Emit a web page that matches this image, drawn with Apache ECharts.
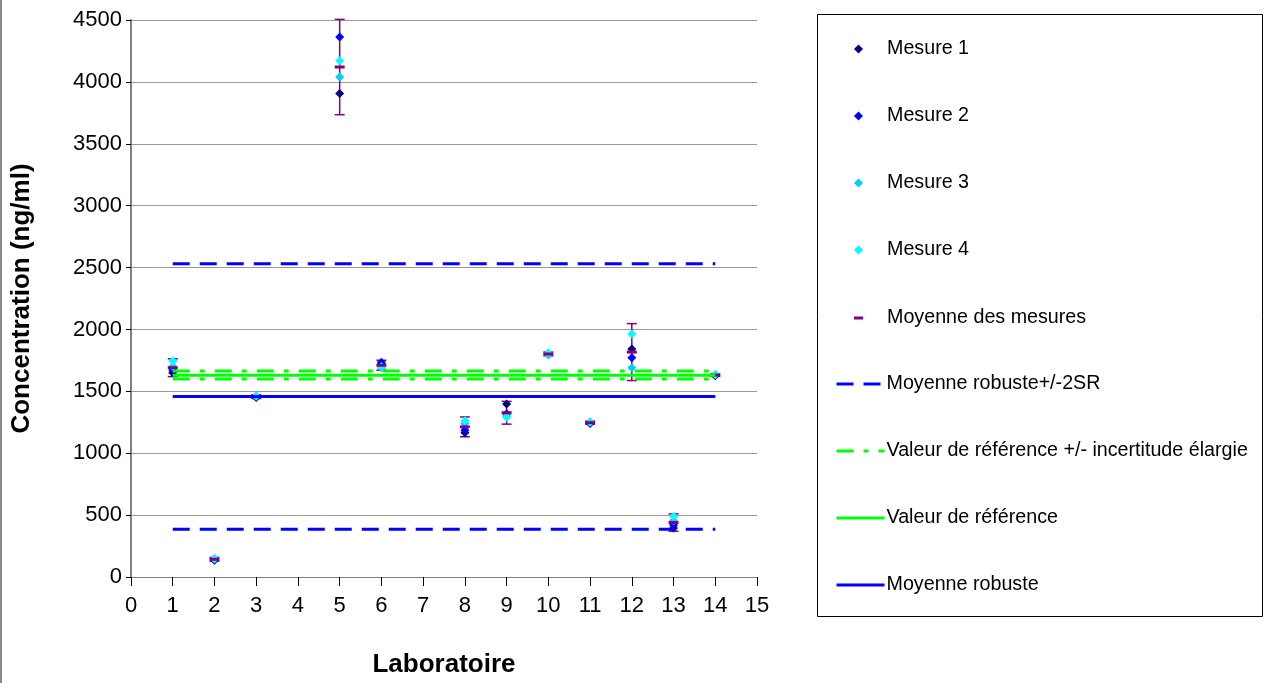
<!DOCTYPE html>
<html>
<head>
<meta charset="utf-8">
<title>Concentration par laboratoire</title>
<script src="https://cdn.jsdelivr.net/npm/echarts@6/dist/echarts.min.js"></script>
<style>
  html, body { margin: 0; padding: 0; background: #fff; }
  #chart { width: 1264px; height: 683px; }
</style>
</head>
<body>
<div id="chart"></div>
<script>
// données
const labs = [1, 2, 3, 5, 6, 8, 9, 10, 11, 12, 13, 14]
const mesure1 = [1650, 135, 1450, 3907, 1720, 1165, 1398, 1800, 1240, 1843, 395, 1625]
const mesure2 = [1670, 140, 1455, 4363, 1735, 1185, 1318, 1805, 1245, 1771, 420, 1630]
const mesure3 = [1700, 150, 1465, 4039, 1690, 1240, 1300, 1795, 1255, 1690, 455, 1635]
const mesure4 = [1745, 145, 1460, 4170, 1700, 1262, 1290, 1810, 1250, 1964, 490, 1635]
const moyenne = [1691, 143, 1457, 4120, 1711, 1213, 1327, 1802, 1247, 1817, 440, 1631]
const ecart = [72, 15, 15, 385, 40, 80, 92, 15, 12, 230, 70, 10]

const lineX = [1, 14]
const moyenneRobuste = 1458
const robusteHaut = 2530
const robusteBas = 386
const valeurRef = 1630
const refHaut = 1665
const refBas = 1600

const FONT = "'Liberation Sans', Arial, sans-serif"

const pairs = arr => labs.map((x, i) => [x, arr[i]])
const flat = v => lineX.map(x => [x, v])

const chart = echarts.init(document.getElementById('chart'))

const lineSerie = (name, v, color, type) => ({
  name,
  type: 'line',
  data: flat(v),
  symbol: 'none',
  silent: true,
  lineStyle: { color, width: 3, type },
  itemStyle: { color }
})

const mesureSerie = (name, arr, color) => ({
  name,
  type: 'scatter',
  data: pairs(arr),
  symbol: 'diamond',
  symbolSize: 9,
  itemStyle: { color, opacity: 1 }
})

const dashRef = [17, 10, 5, 10]
const dashSR = [17, 10]

const legendText = {
  fontSize: 19.7,
  lineHeight: 20,
  color: '#000',
  fontFamily: FONT
}

const option = {
  animation: false,
  backgroundColor: '#fff',
  textStyle: { fontFamily: FONT },
  grid: { left: 131, top: 20, width: 626, height: 559 },
  graphic: [
    {
      type: 'rect',
      shape: { x: 817.5, y: 14.5, width: 445, height: 602 },
      style: { fill: 'none', stroke: '#000', lineWidth: 1 },
      silent: true
    },
    {
      type: 'line',
      shape: { x1: 1, y1: 0, x2: 1, y2: 683 },
      style: { stroke: '#888', lineWidth: 2 },
      silent: true
    }
  ],
  legend: [
    {
      orient: 'vertical',
      left: 849,
      top: 34,
      itemWidth: 9,
      itemHeight: 9,
      itemGap: 47,
      selectedMode: false,
      icon: 'diamond',
      itemStyle: { opacity: 1 },
      data: ['Mesure 1', 'Mesure 2', 'Mesure 3', 'Mesure 4'],
      textStyle: { ...legendText, padding: [0, 0, 0, 19] }
    },
    {
      orient: 'vertical',
      left: 849,
      top: 303,
      itemWidth: 9,
      itemHeight: 3,
      selectedMode: false,
      icon: 'rect',
      itemStyle: { opacity: 1 },
      data: ['Moyenne des mesures'],
      textStyle: { ...legendText, padding: [0, 0, 0, 19] }
    },
    {
      orient: 'vertical',
      left: 830,
      top: 369,
      itemWidth: 48,
      itemHeight: 14,
      itemGap: 47,
      selectedMode: false,
      itemStyle: { opacity: 0 },
      lineStyle: { width: 3, type: 'inherit' },
      data: [
        'Moyenne robuste+/-2SR',
        'Valeur de référence +/- incertitude élargie',
        'Valeur de référence',
        'Moyenne robuste'
      ],
      textStyle: { ...legendText, padding: [0, 0, 0, -3] }
    }
  ],
  xAxis: {
    type: 'value',
    min: 0,
    max: 15,
    interval: 1,
    name: 'Laboratoire',
    nameLocation: 'middle',
    nameGap: 75,
    nameTextStyle: { fontSize: 26, fontWeight: 'bold', color: '#000', fontFamily: FONT },
    axisLine: { onZero: false, lineStyle: { color: '#808080', width: 1 } },
    axisTick: { length: 9, lineStyle: { color: '#000' } },
    axisLabel: { fontSize: 22, color: '#000', margin: 18, fontFamily: FONT },
    splitLine: { show: false }
  },
  yAxis: {
    type: 'value',
    min: 0,
    max: 4500,
    interval: 500,
    name: 'Concentration (ng/ml)',
    nameLocation: 'middle',
    nameRotate: 90,
    nameGap: 96,
    nameTextStyle: { fontSize: 26, fontWeight: 'bold', color: '#000', fontFamily: FONT },
    axisLine: { show: true, lineStyle: { color: '#808080', width: 2 } },
    axisTick: { show: true, length: 5, lineStyle: { color: '#000' } },
    axisLabel: { fontSize: 22, color: '#000', margin: 9, fontFamily: FONT, formatter: v => String(v) },
    splitLine: { lineStyle: { color: '#999', width: 1 } }
  },
  series: [
    lineSerie('Moyenne robuste', moyenneRobuste, '#0000ff', 'solid'),
    lineSerie('Valeur de référence', valeurRef, '#00ff00', 'solid'),
    lineSerie('Valeur de référence +/- incertitude élargie', refHaut, '#00ff00', dashRef),
    lineSerie('Valeur de référence +/- incertitude élargie', refBas, '#00ff00', dashRef),
    lineSerie('Moyenne robuste+/-2SR', robusteHaut, '#0000ff', dashSR),
    lineSerie('Moyenne robuste+/-2SR', robusteBas, '#0000ff', dashSR),
    {
      // barres d'erreur
      type: 'custom',
      data: labs.map((x, i) => [x, moyenne[i], ecart[i]]),
      encode: { x: 0, y: 1 },
      silent: true,
      renderItem: (params, api) => {
        const x = api.value(0)
        const m = api.value(1)
        const e = api.value(2)
        const top = api.coord([x, m + e])
        const bot = api.coord([x, m - e])
        const cap = 5
        const st = { stroke: '#800080', lineWidth: 1.5 }
        return {
          type: 'group',
          children: [
            { type: 'line', shape: { x1: top[0], y1: top[1], x2: bot[0], y2: bot[1] }, style: st },
            { type: 'line', shape: { x1: top[0] - cap, y1: top[1], x2: top[0] + cap, y2: top[1] }, style: st },
            { type: 'line', shape: { x1: bot[0] - cap, y1: bot[1], x2: bot[0] + cap, y2: bot[1] }, style: st }
          ]
        }
      }
    },
    mesureSerie('Mesure 1', mesure1, '#000080'),
    mesureSerie('Mesure 2', mesure2, '#0000ff'),
    mesureSerie('Mesure 3', mesure3, '#00ccff'),
    mesureSerie('Mesure 4', mesure4, '#00ffff'),
    {
      name: 'Moyenne des mesures',
      type: 'scatter',
      data: pairs(moyenne),
      symbol: 'rect',
      symbolSize: [10, 3],
      itemStyle: { color: '#800080', opacity: 1 }
    }
  ]
}

chart.setOption(option)
window.addEventListener('resize', () => chart.resize())
</script>
</body>
</html>
